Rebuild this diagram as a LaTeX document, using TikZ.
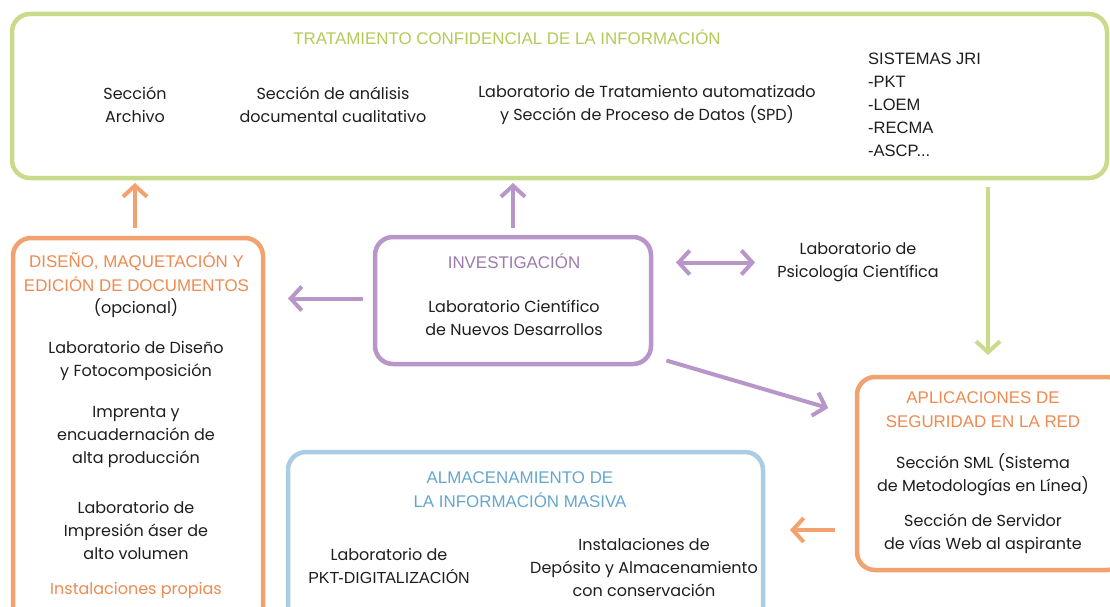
\documentclass[tikz,border=0pt]{standalone}
\usepackage{fontspec}
\setmainfont{Poppins}
\newfontfamily\tfont{Liberation Sans}
\usetikzlibrary{arrows.meta,calc}
\definecolor{cgreen}{HTML}{C8DB8A}
\definecolor{tgreen}{HTML}{B3CB57}
\definecolor{corange}{HTML}{F2A26F}
\definecolor{torange}{HTML}{EE8A52}
\definecolor{cpurple}{HTML}{B996C9}
\definecolor{tpurple}{HTML}{9C7AAE}
\definecolor{cblue}{HTML}{AACDE4}
\definecolor{tblue}{HTML}{66A6CE}
\definecolor{ink}{HTML}{1E1E1E}
\begin{document}
\begin{tikzpicture}[x=1pt,y=-1pt,
 box/.style={draw, line width=4.5pt, rounded corners=18pt, outer sep=0pt, inner sep=0pt},
 body/.style={font=\fontsize{16}{23}\selectfont, text=ink, align=center, inner sep=0pt},
 ttl/.style={font=\tfont\fontsize{16.9}{24}\selectfont, align=center, inner sep=0pt},
 tip/.tip={Straight Barb[length=11pt,width=24pt]},
 arr/.style={line width=4pt, -tip},
 darr/.style={line width=4pt, tip-tip},
]
\useasboundingbox (0,0) rectangle (1110,607);
\fill[white] (0,0) rectangle (1110,607);

% boxes
\node[box, draw=cgreen, minimum width=1095pt, minimum height=164pt] (top) at (559.5,96) {};
\node[box, draw=corange, minimum width=250pt, minimum height=387pt] (left) at (138,431.5) {};
\node[box, draw=cpurple, minimum width=276pt, minimum height=127pt] (inv) at (513,300.5) {};
\node[box, draw=corange, minimum width=268pt, minimum height=193pt] (right) at (991,473.5) {};
\node[box, draw=cblue, minimum width=475pt, minimum height=173pt] (blue) at (525.5,538.5) {};

% top box texts
\node[ttl, text=tgreen] (ttop) at (507,37) {TRATAMIENTO CONFIDENCIAL DE LA INFORMACIÓN};
\node[body] (secA) at (135,104.5) {Sección\\Archivo};
\node[body] (secB) at (333,104.5) {Sección de análisis\\documental cualitativo};
\node[body] (secC) at (647,104.5) {Laboratorio de Tratamiento automatizado\\y Sección de Proceso de Datos (SPD)};
\node[ttl, text=ink, align=left, anchor=west, font=\tfont\fontsize{16.5}{23}\selectfont] (sist) at (868,104.5) {SISTEMAS JRI\\-PKT\\-LOEM\\-RECMA\\-ASCP...};

% left box texts
\node[ttl, text=torange] (tleft) at (136.5,272) {DISEÑO, MAQUETACIÓN Y\\EDICIÓN DE DOCUMENTOS};
\node[body] (opc) at (136,308) {(opcional)};
\node[body] (l1) at (136,360.5) {Laboratorio de Diseño\\y Fotocomposición};
\node[body] (l2) at (136,437) {Imprenta y\\encuadernación de\\alta producción};
\node[body] (l3) at (136,530) {Laboratorio de\\Impresión áser de\\alto volumen};
\node[body, text=torange] (l4) at (136,590) {Instalaciones propias};

% investigacion
\node[ttl, text=tpurple] (tinv) at (514,261) {INVESTIGACIÓN};
\node[body] (inv1) at (514,317.5) {Laboratorio Científico\\de Nuevos Desarrollos};
\node[body] (psic) at (858,262.5) {Laboratorio de\\Psicología Científica};

% right box
\node[ttl, text=torange] (tright) at (983,410) {APLICACIONES DE\\SEGURIDAD EN LA RED};
\node[body] (r1) at (983,474.5) {Sección SML (Sistema\\de Metodologías en Línea)};
\node[body] (r2) at (983,533.5) {Sección de Servidor\\de vías Web al aspirante};

% blue box
\node[ttl, text=tblue] (tblue) at (520,490) {ALMACENAMIENTO DE\\LA INFORMACIÓN MASIVA};
\node[body] (b1) at (389,566) {Laboratorio de\\{\tfont PKT-DIGITALIZACIÓN}};
\node[body] (b2) at (644,567) {Instalaciones de\\Depósito y Almacenamiento\\con conservación};

% connectors
\coordinate (gx) at (988,0);
\draw[arr, draw=corange, shorten <=10pt, shorten >=5pt] ([xshift=-3pt]left.north) -- ([xshift=-3pt]left.north |- top.south);
\draw[arr, draw=cpurple, shorten <=9pt, shorten >=5pt] (inv.north) -- (inv.north |- top.south);
\draw[arr, draw=cgreen, shorten <=9pt, shorten >=22pt] (top.south -| gx) -- (right.north -| gx);
\draw[arr, draw=cpurple, shorten <=12pt, shorten >=25pt] ([yshift=2pt]inv.west) -- ([yshift=2pt]inv.west -| left.east);
\draw[darr, draw=cpurple, shorten <=25pt, shorten >=22pt] (inv.east |- psic.west) -- (psic.west);
\draw[arr, draw=cpurple, shorten <=16pt, shorten >=30pt] ([yshift=8pt]inv.south east) -- ([yshift=57pt]right.west);
\draw[arr, draw=corange, shorten <=22pt, shorten >=27pt] ([yshift=-56.5pt]right.west) -- ([yshift=-56.5pt]right.west -| blue.east);
\end{tikzpicture}
\end{document}
